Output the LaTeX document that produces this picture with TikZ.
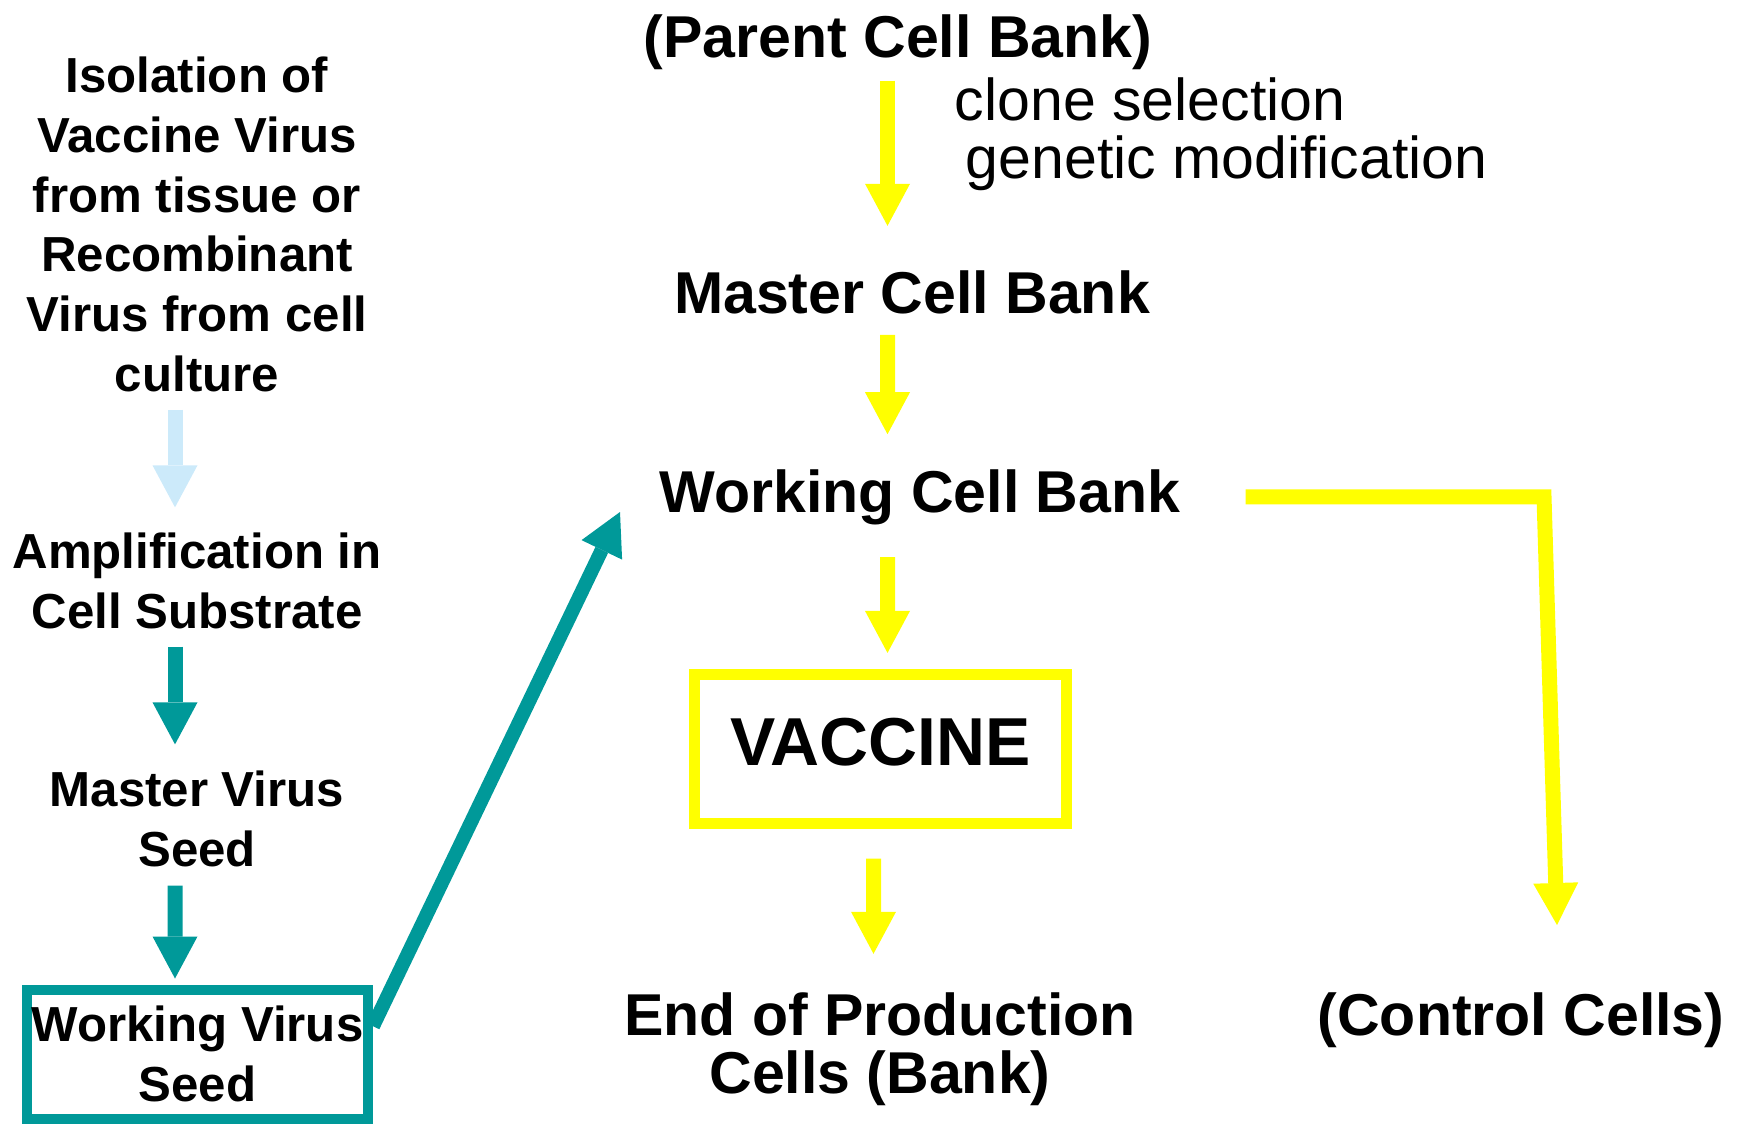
\documentclass[tikz,border=0pt]{standalone}
\usepackage{fontspec}
\setmainfont{Liberation Sans}
\usetikzlibrary{arrows.meta,positioning,calc}
\definecolor{seedteal}{RGB}{0, 153, 153}
\definecolor{isoblue}{RGB}{204, 234, 250}
\definecolor{bankyellow}{RGB}{255, 255, 0}

\begin{document}
\begin{tikzpicture}[
		% Node styles
		seedtext/.style={font=\bfseries\fontsize{14}{17}\selectfont, align=center, inner sep=0pt},
		banktext/.style={font=\bfseries\fontsize{16.8}{16.5}\selectfont, align=center, inner sep=0pt},
		plaintext/.style={font=\fontsize{16.8}{20}\selectfont, inner sep=0pt},
		seedbox/.style={seedtext, draw=seedteal, line width=1mm,
				minimum width=3.41cm, minimum height=1.29cm},
		vaccinebox/.style={draw=bankyellow, line width=1.1mm, inner sep=0pt,
				minimum width=3.72cm, minimum height=1.49cm, font=\bfseries\fontsize{19.3}{20}\selectfont,
				text height=4.9mm, text depth=1.6mm},
		% Arrow styles
		flow/.style={line width=1.5mm, -{Triangle[length=4.2mm, width=4.5mm, line width=0pt]}},
		isoflow/.style={flow, draw=isoblue},
		seedflow/.style={flow, draw=seedteal},
		bankflow/.style={flow, draw=bankyellow}
	]

	\useasboundingbox (0,0) rectangle (17.44,-11.23);

	% Virus seed column
	\node[seedtext] (iso_virus) at (1.97,-2.245) {Isolation of \\ Vaccine Virus \\ from tissue or \\ Recombinant \\ Virus from cell \\ culture};
	\node[seedtext] (amp_cell) at (1.97,-5.81) {Amplification in \\ Cell Substrate};
	\node[seedtext] (master_seed) at (1.97,-8.19) {Master Virus \\ Seed};
	\node[seedbox] (working_seed) at (1.975,-10.54) {Working Virus \\ Seed};

	% Cell bank column
	\node[banktext, anchor=base] (parent_bank) at (8.98,-0.57) {(Parent Cell Bank)};
	\node[plaintext, anchor=base west] (clone_sel) at (9.54,-1.20) {clone selection};
	\node[plaintext, anchor=base west] (gen_mod) at (9.65,-1.78) {genetic modification};
	\node[banktext, anchor=base] (master_bank) at (9.12,-3.13) {Master Cell Bank};
	\node[banktext, anchor=base] (working_bank) at (9.2,-5.12) {Working Cell Bank};
	\node[vaccinebox] (vaccine) at (8.805,-7.49) {VACCINE};
	\node[banktext] (eop_cells) at (8.80,-10.49) {End of Production \\ Cells (Bank)};
	\node[banktext, anchor=base] (control_cells) at (15.21,-10.35) {(Control Cells)};

	% Free ends
	\coordinate (bank_tip) at (6.2,-5.12);
	\coordinate (control_bend) at (15.44,0);
	\coordinate (control_tip) at (15.57,-9.25);

	% Virus seed connections
	\draw[isoflow, shorten <=1.7mm, shorten >=2.5mm] ([xshift=-2.2mm]iso_virus.south) -- ([xshift=-2.2mm]amp_cell.north);
	\draw[seedflow, shorten <=1.7mm, shorten >=2.6mm] ([xshift=-2.2mm]amp_cell.south) -- ([xshift=-2.2mm]master_seed.north);
	\draw[seedflow, shorten <=1.8mm, shorten >=0.6mm] ([xshift=-2.2mm]master_seed.south) -- ([xshift=-2.25mm]working_seed.north);
	\draw[seedflow, line width=1.4mm] (working_seed.9) -- (bank_tip);

	% Cell bank connections
	\draw[bankflow, shorten <=1.06mm, shorten >=4.37mm] ([xshift=-1.05mm]parent_bank.south) -- ([xshift=-2.45mm]master_bank.north);
	\draw[bankflow, shorten <=2.07mm, shorten >=3.43mm] ([xshift=-2.45mm]master_bank.south) -- ([xshift=-3.25mm]working_bank.north);
	\draw[bankflow, shorten <=3.2mm, shorten >=1.61mm] ([xshift=-3.25mm]working_bank.south) -- ([xshift=0.7mm]vaccine.north);
	\draw[bankflow, shorten <=2.95mm, shorten >=3.8mm] ([xshift=-0.7mm]vaccine.south) -- ([xshift=-0.65mm]eop_cells.north);
	\draw[bankflow, shorten <=6.45mm] (working_bank.east) -- (working_bank.east -| control_bend) -- (control_tip);

\end{tikzpicture}
\end{document}
